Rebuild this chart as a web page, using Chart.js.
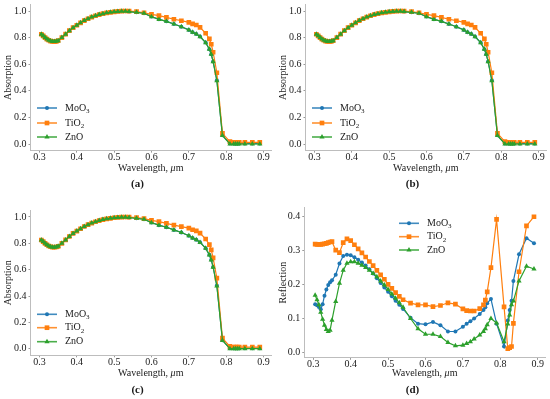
<!DOCTYPE html>
<html lang="en">
<head>
    <meta charset="UTF-8">
    <title>Absorption and Reflection</title>
    <script src="https://cdn.jsdelivr.net/npm/chart.js"></script>
    <style>
        body {
            margin: 0;
            background: #ffffff;
        }

        .wrap {
            position: relative;
            width: 550px;
            height: 399px;
        }

        .wrap canvas {
            position: absolute;
        }
    </style>
</head>
<body>
    <div class="wrap">
        <canvas id="chart-a" width="275" height="200" style="left:0;top:0"></canvas>
        <canvas id="chart-b" width="275" height="200" style="left:275px;top:0"></canvas>
        <canvas id="chart-c" width="275" height="199" style="left:0;top:200px"></canvas>
        <canvas id="chart-d" width="275" height="199" style="left:275px;top:200px"></canvas>
    </div>

    <script>
        // Wavelength grid, um (same for every panel)
        const wavelength = [
            0.305, 0.31, 0.315, 0.32, 0.325, 0.33, 0.335, 0.34, 0.345, 0.35,
            0.36, 0.37, 0.38, 0.39, 0.40, 0.41, 0.42, 0.43, 0.44, 0.45, 0.46, 0.47, 0.48, 0.49, 0.50, 0.51, 0.52, 0.53, 0.54,
            0.56, 0.58, 0.60, 0.62, 0.64, 0.66, 0.68, 0.70,
            0.71, 0.72, 0.73, 0.745, 0.755, 0.76, 0.765, 0.775,
            0.79, 0.81, 0.82, 0.825, 0.83, 0.835, 0.85, 0.87, 0.89
        ];

        const seriesNames = ['MoO3', 'TiO2', 'ZnO'];

        // Absorption (panels a, b, c)
        const absMoO3 = [
            0.825, 0.813, 0.800, 0.789, 0.780, 0.774, 0.771, 0.770, 0.772, 0.777,
            0.800, 0.826, 0.852, 0.875, 0.893, 0.911, 0.928, 0.942, 0.954, 0.964, 0.973, 0.980, 0.986, 0.990, 0.994, 0.997, 0.998, 0.998, 0.996,
            0.990, 0.983, 0.958, 0.938, 0.922, 0.902, 0.882, 0.858,
            0.841, 0.828, 0.808, 0.763, 0.713, 0.675, 0.621, 0.480,
            0.065, 0.003, 0.003, 0.003, 0.003, 0.003, 0.003, 0.003, 0.003
        ];
        const absTiO2 = [
            0.825, 0.813, 0.800, 0.789, 0.780, 0.774, 0.771, 0.770, 0.772, 0.777,
            0.800, 0.826, 0.852, 0.875, 0.893, 0.911, 0.928, 0.942, 0.954, 0.964, 0.973, 0.980, 0.986, 0.990, 0.994, 0.997, 0.999, 1.000, 0.999,
            0.995, 0.987, 0.974, 0.965, 0.952, 0.938, 0.927, 0.915,
            0.903, 0.895, 0.877, 0.833, 0.790, 0.750, 0.690, 0.536,
            0.080, 0.018, 0.013, 0.013, 0.013, 0.013, 0.012, 0.012, 0.012
        ];
        const absZnO = [
            0.825, 0.813, 0.800, 0.789, 0.780, 0.774, 0.771, 0.770, 0.772, 0.777,
            0.800, 0.826, 0.852, 0.875, 0.893, 0.911, 0.928, 0.942, 0.954, 0.964, 0.973, 0.980, 0.986, 0.990, 0.994, 0.997, 0.998, 0.998, 0.996,
            0.990, 0.983, 0.957, 0.937, 0.922, 0.902, 0.882, 0.857,
            0.840, 0.827, 0.807, 0.762, 0.712, 0.674, 0.619, 0.476,
            0.063, 0.000, 0.000, 0.000, 0.000, 0.000, 0.000, 0.000, 0.000
        ];

        // Reflection (panel d)
        const refMoO3 = [
            0.142, 0.139, 0.134, 0.127, 0.142, 0.167, 0.185, 0.198, 0.206, 0.212,
            0.228, 0.261, 0.283, 0.287, 0.285, 0.279, 0.272, 0.264, 0.255, 0.244, 0.232, 0.218, 0.204, 0.191, 0.178, 0.165, 0.152, 0.140, 0.128,
            0.102, 0.085, 0.083, 0.090, 0.080, 0.062, 0.062, 0.076,
            0.085, 0.092, 0.100, 0.113, 0.125, 0.133, 0.145, 0.157,
            0.085, 0.018, 0.094, 0.125, 0.152, 0.210, 0.288, 0.335, 0.320
        ];
        const refTiO2 = [
            0.318, 0.317, 0.317, 0.317, 0.318, 0.319, 0.320, 0.322, 0.324, 0.325,
            0.300, 0.293, 0.322, 0.333, 0.328, 0.316, 0.304, 0.292, 0.280, 0.267, 0.255, 0.241, 0.228, 0.215, 0.200, 0.188, 0.176, 0.165, 0.155,
            0.145, 0.140, 0.140, 0.135, 0.138, 0.146, 0.142, 0.128,
            0.123, 0.122, 0.122, 0.129, 0.140, 0.154, 0.178, 0.249,
            0.390, 0.134, 0.012, 0.015, 0.018, 0.086, 0.237, 0.371, 0.398
        ];
        const refZnO = [
            0.168, 0.155, 0.140, 0.118, 0.098, 0.080, 0.068, 0.062, 0.066, 0.095,
            0.150, 0.203, 0.241, 0.262, 0.266, 0.266, 0.262, 0.256, 0.249, 0.241, 0.232, 0.222, 0.210, 0.198, 0.185, 0.172, 0.159, 0.146, 0.133,
            0.100, 0.070, 0.054, 0.054, 0.047, 0.030, 0.020, 0.022,
            0.027, 0.032, 0.040, 0.052, 0.062, 0.070, 0.082, 0.100,
            0.087, 0.032, 0.084, 0.110, 0.140, 0.151, 0.210, 0.253, 0.245
        ];

        const xTicks = [0.3, 0.4, 0.5, 0.6, 0.7, 0.8, 0.9];

        const SERIF = '"Liberation Serif", "Times New Roman", serif';
        const colors = ['#1f77b4', '#ff7f0e', '#2ca02c'];
        const markers = ['circle', 'rect', 'triangle'];
        const markerSize = [2, 3.3, 3];

        function toPoints(ys) {
            return wavelength.map((x, i) => ({ x: x, y: ys[i] }));
        }

        // draw a legend marker like the chart's point style
        function drawMarker(ctx, style, x, y, r) {
            ctx.beginPath();
            if (style === 'circle') {
                ctx.arc(x, y, r, 0, Math.PI * 2);
            } else if (style === 'rect') {
                const s = r * Math.SQRT1_2;
                ctx.rect(x - s, y - s, 2 * s, 2 * s);
            } else {
                ctx.moveTo(x, y - r);
                ctx.lineTo(x + r * 0.866, y + r * 0.5);
                ctx.lineTo(x - r * 0.866, y + r * 0.5);
                ctx.closePath();
            }
            ctx.fill();
        }

        // text with a trailing subscript digit, e.g. MoO3
        function drawChem(ctx, name, x, y) {
            const m = name.match(/^(.*?)(\d*)$/);
            ctx.font = '10px ' + SERIF;
            ctx.textAlign = 'left';
            ctx.textBaseline = 'middle';
            ctx.fillText(m[1], x, y);
            if (m[2]) {
                const w = ctx.measureText(m[1]).width;
                ctx.font = '7px ' + SERIF;
                ctx.fillText(m[2], x + w, y + 3);
            }
        }

        // x title (italic mu), panel letter and legend
        const decoPlugin = {
            id: 'deco',
            afterDraw(chart, args, o) {
                const ctx = chart.ctx;
                const area = chart.chartArea;
                ctx.save();
                ctx.fillStyle = '#1a1a1a';
                ctx.textBaseline = 'middle';
                ctx.textAlign = 'left';

                const parts = [
                    ['Wavelength, ', '10px ' + SERIF],
                    ['\u03bc', 'italic 10px ' + SERIF],
                    ['m', '10px ' + SERIF]
                ];
                let total = 0;
                parts.forEach(p => { ctx.font = p[1]; total += ctx.measureText(p[0]).width; });
                let tx = (area.left + area.right) / 2 - total / 2;
                parts.forEach(p => {
                    ctx.font = p[1];
                    ctx.fillText(p[0], tx, o.titleY);
                    tx += ctx.measureText(p[0]).width;
                });

                ctx.font = 'bold 11px ' + SERIF;
                ctx.textAlign = 'center';
                ctx.fillText(o.label, chart.width / 2, o.labelY);

                seriesNames.forEach((name, i) => {
                    const y = o.legendY[i];
                    const x0 = o.legendX;
                    ctx.strokeStyle = colors[i];
                    ctx.fillStyle = colors[i];
                    ctx.globalAlpha = 0.85;
                    ctx.lineWidth = 1.6;
                    ctx.beginPath();
                    ctx.moveTo(x0, y);
                    ctx.lineTo(x0 + 20, y);
                    ctx.stroke();
                    ctx.globalAlpha = 1;
                    drawMarker(ctx, markers[i], x0 + 10, y, markerSize[i]);
                    ctx.fillStyle = '#1a1a1a';
                    drawChem(ctx, name, x0 + 28, y);
                });
                ctx.restore();
            }
        };

        function makePanel(id, p) {
            const series = p.series.map((ys, i) => ({
                label: seriesNames[i],
                data: toPoints(ys),
                borderColor: colors[i],
                backgroundColor: colors[i],
                borderWidth: 1.2,
                pointStyle: markers[i],
                pointRadius: markerSize[i],
                pointBorderWidth: 0,
                pointBackgroundColor: colors[i],
                tension: 0,
                order: 2 - i
            }));

            new Chart(document.getElementById(id), {
                type: 'line',
                data: { datasets: series },
                options: {
                    responsive: false,
                    animation: false,
                    devicePixelRatio: 1,
                    layout: { padding: { left: 0, top: p.top, right: 275 - p.right, bottom: 0 } },
                    scales: {
                        x: {
                            type: 'linear',
                            min: 0.276,
                            max: 0.92,
                            afterBuildTicks: s => { s.ticks = xTicks.map(v => ({ value: v })); },
                            afterFit: s => { s.height = p.H - p.bottom; s.paddingLeft = 0; s.paddingRight = 0; },
                            ticks: {
                                callback: v => v.toFixed(1),
                                font: { family: SERIF, size: 10, lineHeight: 1 },
                                color: '#1a1a1a',
                                padding: 0,
                                maxRotation: 0,
                                autoSkip: false
                            },
                            grid: { drawOnChartArea: false, drawTicks: true, tickLength: 2, tickColor: '#999' },
                            border: { display: true, color: '#bdbdbd', width: 1 }
                        },
                        y: {
                            min: p.yMin,
                            max: p.yMax,
                            afterBuildTicks: s => { s.ticks = p.yTicks.map(v => ({ value: v })); },
                            afterFit: s => { s.width = p.left; s.paddingTop = 0; s.paddingBottom = 0; },
                            ticks: {
                                callback: v => v.toFixed(1),
                                font: { family: SERIF, size: 10, lineHeight: 1 },
                                color: '#1a1a1a',
                                padding: 2,
                                autoSkip: false
                            },
                            grid: { drawOnChartArea: false, drawTicks: true, tickLength: 2, tickColor: '#999' },
                            border: { display: true, color: '#bdbdbd', width: 1 },
                            title: {
                                display: true,
                                text: p.yTitle,
                                color: '#1a1a1a',
                                font: { family: SERIF, size: 10, lineHeight: 1.2 },
                                padding: { top: 2, bottom: 0 }
                            }
                        }
                    },
                    plugins: {
                        legend: { display: false },
                        tooltip: { enabled: false },
                        deco: { label: p.label, titleY: p.titleY, labelY: p.labelY, legendX: p.legendX, legendY: p.legendY }
                    }
                },
                plugins: [decoPlugin]
            });
        }

        const absTicks = [0.0, 0.2, 0.4, 0.6, 0.8, 1.0];
        const refTicks = [0.0, 0.1, 0.2, 0.3, 0.4];

        const topRow = {
            series: [absMoO3, absTiO2, absZnO],
            left: 30.5, right: 272.5, top: 4.35, bottom: 150.65, H: 200,
            yMin: -0.05, yMax: 1.05, yTicks: absTicks, yTitle: 'Absorption',
            titleY: 168, labelY: 184, legendX: 37, legendY: [108, 123, 137]
        };

        makePanel('chart-a', Object.assign({}, topRow, { label: '(a)' }));
        makePanel('chart-b', Object.assign({}, topRow, { label: '(b)' }));
        makePanel('chart-c', Object.assign({}, topRow, {
            label: '(c)', top: 10.4, bottom: 155.3, H: 199,
            titleY: 173, labelY: 190.5, legendY: [114.3, 127.7, 141.7]
        }));
        makePanel('chart-d', {
            series: [refMoO3, refTiO2, refZnO],
            left: 29.3, right: 270.2, top: 7.5, bottom: 157.8, H: 199,
            yMin: -0.015, yMax: 0.425, yTicks: refTicks, yTitle: 'Reflection',
            label: '(d)', titleY: 173, labelY: 190.5, legendX: 124, legendY: [23.3, 36.7, 50]
        });
    </script>
</body>
</html>
